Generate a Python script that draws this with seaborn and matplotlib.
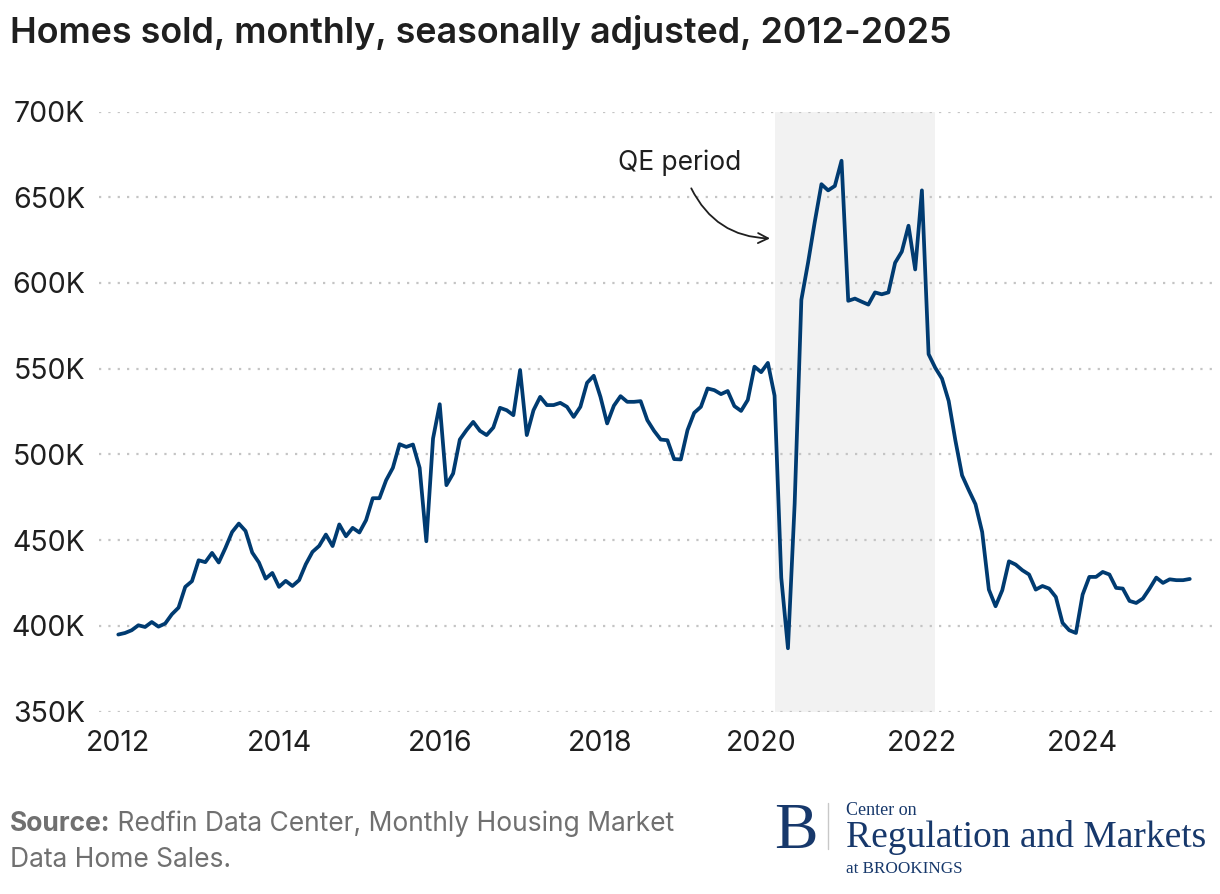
import numpy as np
import pandas as pd
import matplotlib
matplotlib.use("Agg")
import matplotlib.pyplot as plt
import seaborn as sns

# ---------------- data (thousands of homes sold, monthly, SA) ----------------
start_year = 2012
homes_sold_k = [
    395.0, 395.9, 397.5, 400.4, 399.4, 402.3, 399.6, 401.4, 406.8, 410.7, 422.8, 426.1,  # 2012
    438.3, 437.2, 442.6, 437.0, 445.5, 454.8, 459.7, 455.4, 442.8, 437.0, 427.6, 430.9,  # 2013
    422.8, 426.3, 423.3, 426.7, 436.0, 443.2, 446.7, 453.3, 446.6, 459.2, 452.3, 457.2,  # 2014
    454.5, 461.7, 474.5, 474.5, 485.0, 492.2, 506.0, 504.4, 505.8, 492.2, 449.4, 509.3,  # 2015
    529.3, 482.1, 488.9, 508.7, 514.2, 519.0, 513.8, 511.3, 515.7, 527.2, 525.8, 522.9,  # 2016
    549.2, 511.3, 525.8, 533.6, 528.8, 528.8, 530.1, 527.8, 521.9, 527.8, 541.8, 545.9,  # 2017
    533.6, 518.1, 528.4, 534.0, 530.7, 530.7, 531.1, 520.0, 513.8, 508.7, 508.3, 497.3,  # 2018
    497.1, 514.2, 524.3, 527.8, 538.5, 537.5, 535.2, 537.0, 528.2, 525.4, 531.8, 551.2,  # 2019
    548.0, 553.4, 534.3, 428.1, 387.0, 471.3, 590.2, 611.8, 635.6, 657.6, 654.0, 656.6,  # 2020
    671.3, 589.6, 590.9, 589.1, 587.4, 594.5, 593.4, 594.5, 611.8, 618.3, 633.4, 607.9,  # 2021
    654.0, 558.5, 550.5, 544.2, 531.2, 508.2, 487.8, 479.2, 471.0, 454.8, 421.2, 411.5,  # 2022
    420.8, 437.7, 435.8, 432.5, 430.0, 421.2, 423.3, 421.8, 416.9, 401.8, 397.5, 395.9,  # 2023
    418.3, 428.6, 428.6, 431.5, 430.0, 422.2, 421.8, 414.6, 413.4, 416.0, 421.8, 428.2,  # 2024
    425.1, 427.2, 426.7, 426.7, 427.4,                                                   # 2025
]
month_index = np.arange(len(homes_sold_k))
years = start_year + month_index / 12.0

y_ticks = [350, 400, 450, 500, 550, 600, 650, 700]
y_tick_labels = [f"{v}K" for v in y_ticks]
x_ticks = [2012, 2014, 2016, 2018, 2020, 2022, 2024]
x_tick_labels = [str(v) for v in x_ticks]

qe_start, qe_end = 2020 + 2 / 12, 2022 + 2 / 12   # Mar 2020 - Mar 2022

title = "Homes sold, monthly, seasonally adjusted, 2012-2025"
source_bold = "Source:"
source_rest_1 = " Redfin Data Center, Monthly Housing Market"
source_rest_2 = "Data Home Sales."

df = pd.DataFrame({"year": years, "homes": homes_sold_k})

# ---------------- style ----------------
sns.set_theme(style="white")
plt.rcParams["font.family"] = ["Inter", "DejaVu Sans"]

NAVY = "#003B71"
TEXT = "#1f1f1f"
GRAY = "#707070"
LOGO = "#17386b"

W, H = 1220, 894
fig = plt.figure(figsize=(W / 100, H / 100), dpi=100)
ax = fig.add_axes([99 / W, 1 - 711.7 / H, (1212 - 99) / W, (711.7 - 111.5) / H])

ax.axvspan(qe_start, qe_end, color="#f2f2f2", zorder=0, lw=0)
sns.lineplot(data=df, x="year", y="homes", ax=ax, color=NAVY, linewidth=2.7, zorder=3)

ax.set_xlim(2012 - 0.24, 2025.61)
ax.set_ylim(350, 700)
ax.set_yticks(y_ticks)
ax.set_yticklabels(y_tick_labels)
ax.set_xticks(x_ticks)
ax.set_xticklabels(x_tick_labels)
ax.tick_params(axis="both", length=0, labelsize=20.5, labelcolor=TEXT)
ax.tick_params(axis="y", pad=10)
ax.tick_params(axis="x", pad=13)
ax.set_xlabel("")
ax.set_ylabel("")
for s in ax.spines.values():
    s.set_visible(False)
ax.yaxis.grid(True, color="#c4c4c4", linestyle=(0, (1, 3.2)), linewidth=1.6, zorder=1)
ax.xaxis.grid(False)
ax.set_axisbelow(False)
for gl in ax.get_ygridlines():
    gl.set_zorder(1)
ax.patch.set_alpha(0)

# annotation
ax.text(2018.98, 670.1, "QE period", fontsize=19, color=TEXT, ha="center", va="center", zorder=4)
ax.annotate("", xy=(2020.11, 626.0), xytext=(2019.13, 655.2),
            arrowprops=dict(arrowstyle="->,head_length=0.6,head_width=0.3", color=TEXT,
                            lw=1.3, connectionstyle="arc3,rad=0.3",
                            shrinkA=0, shrinkB=0), zorder=4)

# title
fig.text(10 / W, 1 - 33 / H, title, fontsize=25.8, fontweight="semibold", color=TEXT,
         ha="left", va="center")

# source
fig.canvas.draw()
r = fig.canvas.get_renderer()
t1 = fig.text(10 / W, 1 - 831 / H, source_bold, fontsize=19, fontweight="bold",
              color=GRAY, ha="left", va="baseline")
bb = t1.get_window_extent(renderer=r)
fig.text(bb.x1 / W, 1 - 831 / H, source_rest_1, fontsize=19, color=GRAY,
         ha="left", va="baseline")
fig.text(10 / W, 1 - 867 / H, source_rest_2, fontsize=19, color=GRAY,
         ha="left", va="baseline")

# logo
serif = ["Liberation Serif", "DejaVu Serif"]
fig.text(774 / W, 1 - 847.7 / H, "B", fontsize=47, color=LOGO, family=serif,
         ha="left", va="baseline")
fig.add_artist(plt.Line2D([827.7 / W, 827.7 / W], [1 - 802.7 / H, 1 - 849.3 / H],
                          color="#c8c8c8", lw=1))
fig.text(846 / W, 1 - 815 / H, "Center on", fontsize=13, color=LOGO, family=serif,
         ha="left", va="baseline")
fig.text(846 / W, 1 - 846.7 / H, "Regulation and Markets", fontsize=27, color=LOGO,
         family=serif, ha="left", va="baseline")
fig.text(846 / W, 1 - 872.7 / H, "at BROOKINGS", fontsize=12.3, color=LOGO, family=serif,
         ha="left", va="baseline")

fig.savefig("out.png", dpi=100)
